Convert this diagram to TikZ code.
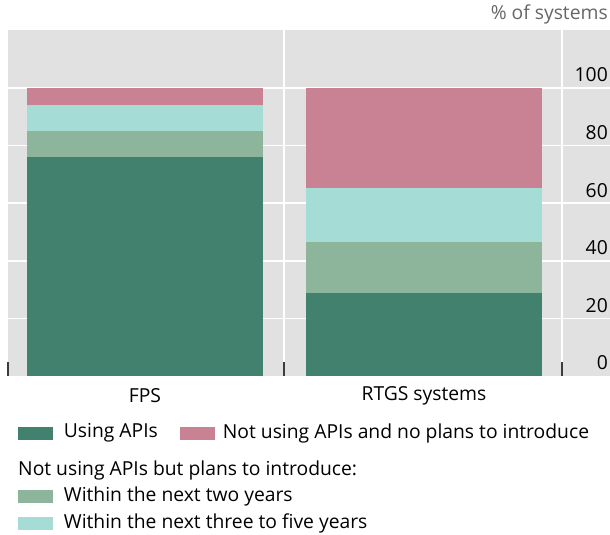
\documentclass[tikz,border=0pt]{standalone}
\usepackage{fontspec}
\setmainfont{Open Sans}
\usepackage{tikz}
\usetikzlibrary{calc,positioning}

\definecolor{plotgrey}{RGB}{225,225,225}
\definecolor{apigreen}{RGB}{66,129,110}
\definecolor{twoyears}{RGB}{141,181,156}
\definecolor{fiveyears}{RGB}{165,220,213}
\definecolor{noplans}{RGB}{200,130,148}
\definecolor{tickgrey}{RGB}{60,60,60}

\tikzset{
  lbl/.style={font=\fontsize{19.3}{22}\selectfont, text=black, inner sep=0pt},
  swatch/.style={minimum width=35pt, minimum height=13pt, inner sep=0pt},
  gridline/.style={white, line width=1.6pt}
}

\begin{document}
\begin{tikzpicture}[x=1pt,y=-1pt]
        \useasboundingbox (0,0) rectangle (610,535);
        % plot area
        \fill[plotgrey] (8,30) rectangle (610,376);
        \foreach \v in  {20, 40, 60, 80, 100}
        \draw[gridline] (8,{376-2.88*\v}) -- (610,{376-2.88*\v});
        \foreach \x in  {284, 562}
        \draw[gridline] (\x,30) -- (\x,376);
        \foreach \x in  {8, 284, 562}
        \draw[tickgrey, line width=1.1pt] (\x,362) -- (\x,376);
        % FPS
        \fill[apigreen]  (27,376) rectangle (263,{376-2.88*76});
        \fill[twoyears]  (27,{376-2.88*76}) rectangle (263,{376-2.88*85});
        \fill[fiveyears] (27,{376-2.88*85}) rectangle (263,{376-2.88*94});
        \fill[noplans]   (27,{376-2.88*94}) rectangle (263,{376-2.88*100});
        % RTGS systems
        \fill[apigreen]  (306,376) rectangle (542,{376-2.88*28.7});
        \fill[twoyears]  (306,{376-2.88*28.7}) rectangle (542,{376-2.88*46.4});
        \fill[fiveyears] (306,{376-2.88*46.4}) rectangle (542,{376-2.88*65.4});
        \fill[noplans]   (306,{376-2.88*65.4}) rectangle (542,{376-2.88*100});
        % axis
        \foreach \v in  {0, 20, 40, 60, 80, 100}
        \node[lbl, anchor=east] (y\v) at (608,{363-2.88*\v}) {\v};
        \node[lbl, anchor=east, text=black!60] (unit) at (608,14) {\% of systems};
        \node[lbl] (fps) at (145,396) {FPS};
        \node[lbl] (rtgs) at (424,396) {RTGS systems};
        % legend
        \node[swatch, fill=apigreen] (swUsing) at (35,433) {};
        \node[lbl, anchor=west, right=11pt of swUsing] (lUsing) {Using APIs};
        \node[swatch, fill=noplans] (swNone) at (197,433) {};
        \node[lbl, anchor=west, right=8pt of swNone] (lNone) {Not using APIs and no plans to introduce};
        \node[lbl, anchor=west] (lPlans) at (18,470) {Not using APIs but plans to introduce:};
        \node[swatch, fill=twoyears] (swTwo) at (35,496) {};
        \node[lbl, anchor=west, right=11pt of swTwo] (lTwo) {Within the next two years};
        \node[swatch, fill=fiveyears] (swFive) at (35,523) {};
        \node[lbl, anchor=west, right=11pt of swFive] (lFive) {Within the next three to five years};
    \end{tikzpicture}
\end{document}
